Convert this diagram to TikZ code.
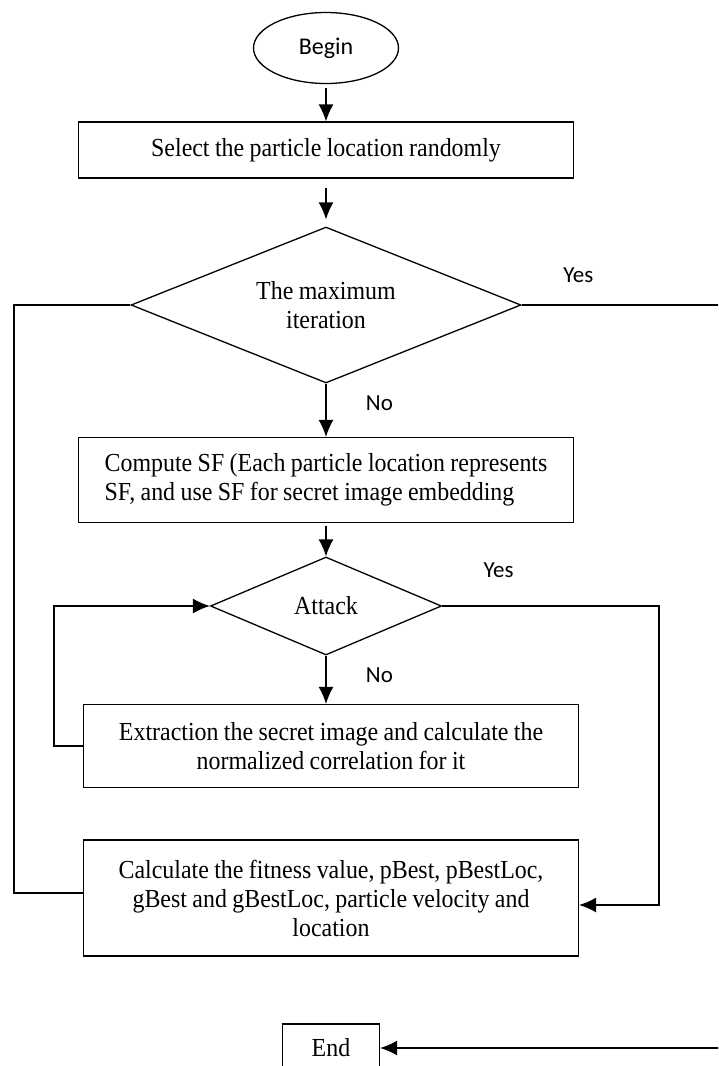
\documentclass[tikz,border=0pt]{standalone}
\usepackage{fontspec}
\setmainfont{Liberation Serif}[FakeStretch=0.92, WordSpace=0.9]
\newfontfamily\calibri{Carlito}
\usetikzlibrary{shapes.geometric, arrows.meta}
\usetikzlibrary{calc}
\tikzstyle{box} = [rectangle, minimum width=495pt, minimum height=56pt, align=center, draw=black, font=\fontsize{26}{29}\selectfont]
\tikzstyle{lbox} = [rectangle, minimum width=495pt, minimum height=85pt, align=left, draw=black, font=\fontsize{26}{29}\selectfont]
\tikzstyle{ebox} = [rectangle, minimum width=97pt, minimum height=48pt, text centered, draw=black, font=\fontsize{26}{29}\selectfont]
\tikzstyle{dec} = [diamond, aspect=2.5, inner sep=0pt, align=center, draw=black, font=\fontsize{26}{29}\selectfont]
\tikzstyle{term} = [ellipse, minimum width=145pt, minimum height=71pt, draw=black, font=\calibri\fontsize{24}{29}\selectfont]
\tikzstyle{lbl} = [font=\calibri\fontsize{23}{28}\selectfont]
\tikzstyle{arrow} = [->, >={Latex[length=17pt,width=15pt]}]

\begin{document}
\begin{tikzpicture}[x=1pt, y=-1pt, node distance=150pt, line width=1.3pt]
	\useasboundingbox (0,0) rectangle (718,1066);
	\clip (0,0) rectangle (718,1066);
	\node (B) [term] at (326,48) {Begin};
	\node (S) [box, below of=B, yshift=48pt] {Select the particle location randomly};
	\node (M) [dec, minimum width=390pt, minimum height=156pt, below of=S, yshift=-5pt] {The maximum\\iteration};
	\node (C) [lbox, below of=M, yshift=-25pt] {Compute SF (Each particle location represents\\SF, and use SF for secret image embedding};
	\node (A) [dec, aspect=2.36, minimum width=231pt, minimum height=98pt, below of=C, yshift=24pt] {Attack};
	\node (E) [box, minimum height=83pt, below of=A, yshift=10pt, xshift=5pt] {Extraction the secret image and calculate the\\normalized correlation for it};
	\node (F) [box, minimum height=116pt, below of=E, yshift=-2pt] {Calculate the fitness value, pBest, pBestLoc,\\gBest and gBestLoc, particle velocity and\\location};
	\node (End) [ebox, below of=F] {End};
	\coordinate (r1) at (745,1048);
	\coordinate (r2) at (659,905);
	\coordinate (l1) at (14,893);
	%\draw [arrow](B) -- (S);
	\draw [arrow, shorten <=4pt] (B) -- (S);
	\draw [arrow, shorten <=9pt, shorten >=7pt] (S) -- (M);
	\draw [arrow] (M) -- node[lbl, pos=0.37, right=36pt]{No} (C);
	\draw [arrow, shorten <=3pt] (C) -- (A);
	\draw [arrow] (A) -- node[lbl, pos=0.4, right=36pt]{No} (A |- E.north);
	\draw [arrow] (E.west) -- ++(-29,0) |- (A.west);
	\draw [arrow] (A.east) -- node[lbl, pos=0.26, yshift=36pt]{Yes} (A.east -| r2) -- (r2) -- (r2 -| F.east);
	\draw (M.west) -| (l1) -- (l1 -| F.west);
	\draw [arrow] (M.east) -- node[lbl, pos=0.254, yshift=30pt]{Yes} (M.east -| r1) -- (r1) -- (End.east);
\end{tikzpicture}
\end{document}
